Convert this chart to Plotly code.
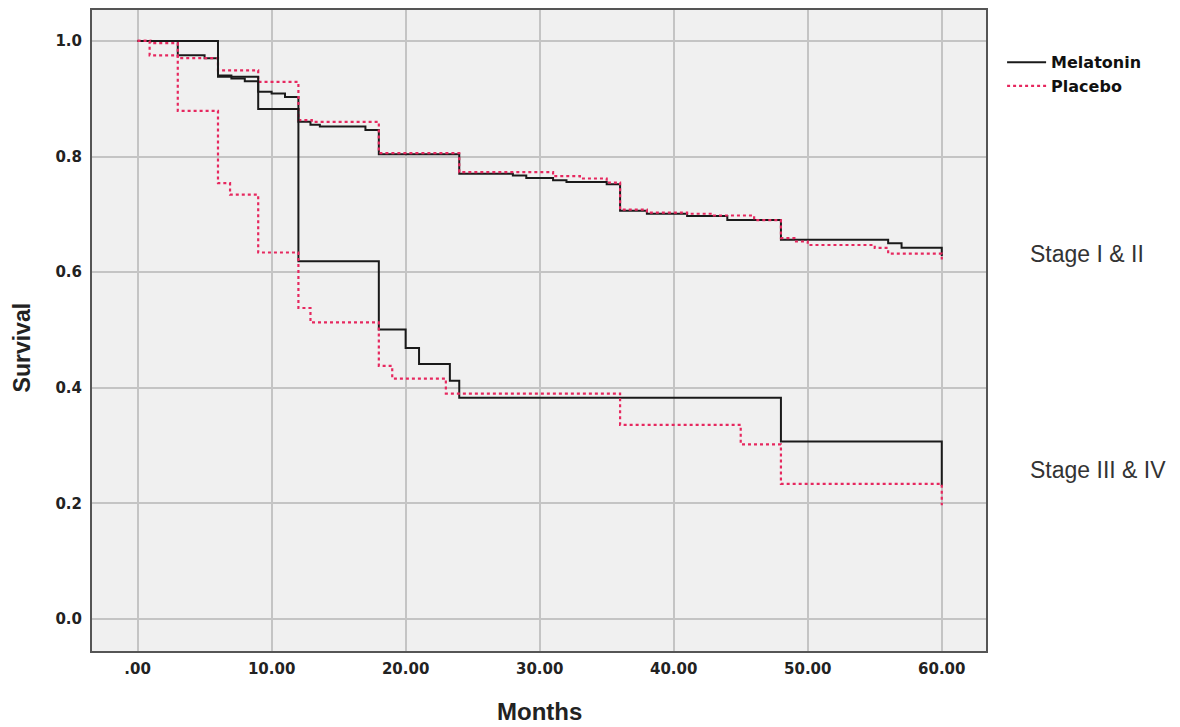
import plotly.graph_objects as go

# ---- data (Kaplan-Meier step values) ----
months_mel_12 = [0, 3, 5, 6, 7, 8, 9, 10, 11, 12, 12.9, 13.6, 17, 18, 24, 28, 29, 31, 32, 35, 36, 38, 41, 44, 48, 56, 57, 60]
surv_mel_12 = [1.0, 0.975, 0.970, 0.940, 0.935, 0.930, 0.912, 0.909, 0.903, 0.860, 0.855, 0.852, 0.846, 0.804, 0.770, 0.767,
               0.763, 0.759, 0.756, 0.752, 0.706, 0.701, 0.697, 0.690, 0.656, 0.650, 0.642, 0.628]

months_pla_12 = [0, 1, 3, 6, 9, 12, 13, 18, 24, 31, 33, 35, 36, 38, 41, 43, 46, 48, 49, 50, 55, 56, 60]
surv_pla_12 = [1.0, 0.996, 0.970, 0.949, 0.929, 0.863, 0.860, 0.806, 0.773, 0.766, 0.762, 0.755, 0.708, 0.703, 0.701,
               0.698, 0.690, 0.659, 0.653, 0.647, 0.642, 0.632, 0.622]

months_mel_34 = [0, 6, 9, 12, 18, 20, 21, 23.3, 24, 48, 60]
surv_mel_34 = [1.0, 0.938, 0.882, 0.619, 0.501, 0.469, 0.441, 0.412, 0.383, 0.307, 0.230]

months_pla_34 = [0, 0.9, 3, 6, 6.9, 9, 12, 12.9, 18, 19, 23, 36, 45, 48, 60]
surv_pla_34 = [1.0, 0.975, 0.879, 0.754, 0.734, 0.634, 0.538, 0.513, 0.438, 0.416, 0.390, 0.336, 0.302, 0.234, 0.197]

x_ticks = [0, 10, 20, 30, 40, 50, 60]
x_tick_labels = [".00", "10.00", "20.00", "30.00", "40.00", "50.00", "60.00"]
y_ticks = [0.0, 0.2, 0.4, 0.6, 0.8, 1.0]
y_tick_labels = ["0.0", "0.2", "0.4", "0.6", "0.8", "1.0"]
group_labels = ["Stage I &amp; II", "Stage III &amp; IV"]
group_label_y = [0.619, 0.282]

BLACK = "#1a1a1a"
RED = "#e6285f"

fig = go.Figure()
mel_line = dict(color=BLACK, width=2, shape="hv")
pla_line = dict(color=RED, width=2.2, shape="hv", dash="3px,3px")

fig.add_trace(go.Scatter(x=months_mel_12, y=surv_mel_12, mode="lines", line=mel_line,
                         name="Melatonin", legendgroup="mel", showlegend=True))
fig.add_trace(go.Scatter(x=months_pla_12, y=surv_pla_12, mode="lines", line=pla_line,
                         name="Placebo", legendgroup="pla", showlegend=True))
fig.add_trace(go.Scatter(x=months_mel_34, y=surv_mel_34, mode="lines", line=mel_line,
                         name="Melatonin", legendgroup="mel", showlegend=False))
fig.add_trace(go.Scatter(x=months_pla_34, y=surv_pla_34, mode="lines", line=pla_line,
                         name="Placebo", legendgroup="pla", showlegend=False))

tick_font = dict(family="DejaVu Sans", size=15, color="#222222", weight="bold")

# the page body adds an 8px offset; figure is sized to fill the rest of the window
fig.update_layout(
    width=1172, height=719,
    margin=dict(l=84, r=194, t=0, b=76),
    paper_bgcolor="white",
    plot_bgcolor="#f0f0f0",
    showlegend=True,
    legend=dict(x=1.018, xanchor="left", y=0.945, yanchor="top",
                font=dict(family="DejaVu Sans", size=16, color="#111111", weight="bold"),
                bgcolor="rgba(0,0,0,0)", tracegroupgap=0, itemwidth=39),
    xaxis=dict(range=[-3.4, 63.3], tickvals=x_ticks, ticktext=x_tick_labels,
               showgrid=True, gridcolor="#c4c4c4", gridwidth=2, zeroline=False,
               showline=True, linecolor="#555555", linewidth=2, mirror=True,
               ticks="", ticklabelstandoff=3, tickfont=tick_font),
    yaxis=dict(range=[-0.0552, 1.0534], tickvals=y_ticks, ticktext=y_tick_labels,
               showgrid=True, gridcolor="#c4c4c4", gridwidth=1.5, zeroline=False,
               showline=True, linecolor="#555555", linewidth=2, mirror=True,
               ticks="", ticklabelstandoff=5, tickfont=tick_font),
)

title_font = dict(family="Liberation Sans, Arial", size=24, color="#222222", weight="bold")
fig.add_annotation(text="Months", xref="paper", yref="paper", x=0.5, y=-0.095,
                   xanchor="center", yanchor="middle", showarrow=False, font=title_font)
fig.add_annotation(text="Survival", xref="paper", yref="paper", x=-0.078, y=0.474,
                   xanchor="center", yanchor="middle", showarrow=False, textangle=-90,
                   font=dict(family="Liberation Sans, Arial", size=23, color="#222222", weight="bold"))

for lbl, yy in zip(group_labels, group_label_y):
    fig.add_annotation(text=lbl, xref="paper", yref="paper", x=1.047, y=yy,
                       xanchor="left", yanchor="middle", showarrow=False,
                       font=dict(family="Liberation Sans, Arial", size=23, color="#333333"))

fig.write_html("out.html")
